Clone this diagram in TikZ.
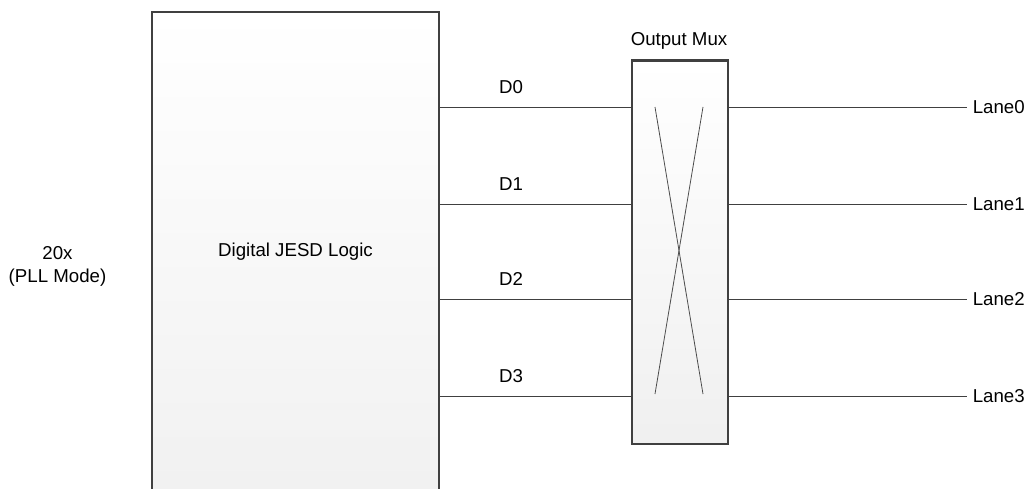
\documentclass[tikz,border=0pt]{standalone}
\usepackage{fontspec}
\setmainfont{Liberation Sans}
\begin{document}
\begin{tikzpicture}[x=0.75pt,y=-0.75pt,
  blockbox/.style={draw=black!75,line width=1.8pt,top color=white,bottom color=black!6,inner sep=0pt},
  wire/.style={draw=black!75,line width=0.75pt},
  xline/.style={draw=black!70,line width=0.6pt},
  lbl/.style={font=\fontsize{14}{16.5}\selectfont,text=black,inner sep=0pt}]
\useasboundingbox (0,0) rectangle (1026,489);
\clip (0,0) rectangle (1026,489);
% big block
\node[blockbox,minimum width=287.3*0.75pt,minimum height=520*0.75pt,anchor=north west] (jesd) at (150.7,10.5) {};
\node[lbl] (jesdlbl) at (295.5,251.5) {Digital JESD Logic};
% mux
\node[blockbox,minimum width=96*0.75pt,minimum height=383.5*0.75pt,anchor=north west] (mux) at (631,59.2) {};
\node[lbl] (muxlbl) at (679,41) {Output Mux};
% cross
\coordinate (c1) at (655,107);
\coordinate (c2) at (703,394);
\coordinate (c3) at (703,107);
\coordinate (c4) at (655,394);
\draw[xline] (c1) -- (c2);
\draw[xline] (c3) -- (c4);
% input label
\node[lbl,align=center] (pll) at (57.5,266.5) {20x\\[1.2pt](PLL Mode)};
% wires
\foreach \i/\y in {0/107,1/204,2/299,3/396}{
  \coordinate (din\i) at (jesd.east |- 0,\y);
  \coordinate (min\i) at (mux.west |- 0,\y);
  \coordinate (mout\i) at (mux.east |- 0,\y);
  \coordinate (lend\i) at (967,\y);
  \draw[wire] (din\i) -- (min\i);
  \draw[wire] (mout\i) -- (lend\i);
  \node[lbl] (d\i) at (511,\y-20) {D\i};
  \node[lbl,anchor=west] (lane\i) at (972.5,\y) {Lane\i};
}
\end{tikzpicture}
\end{document}
